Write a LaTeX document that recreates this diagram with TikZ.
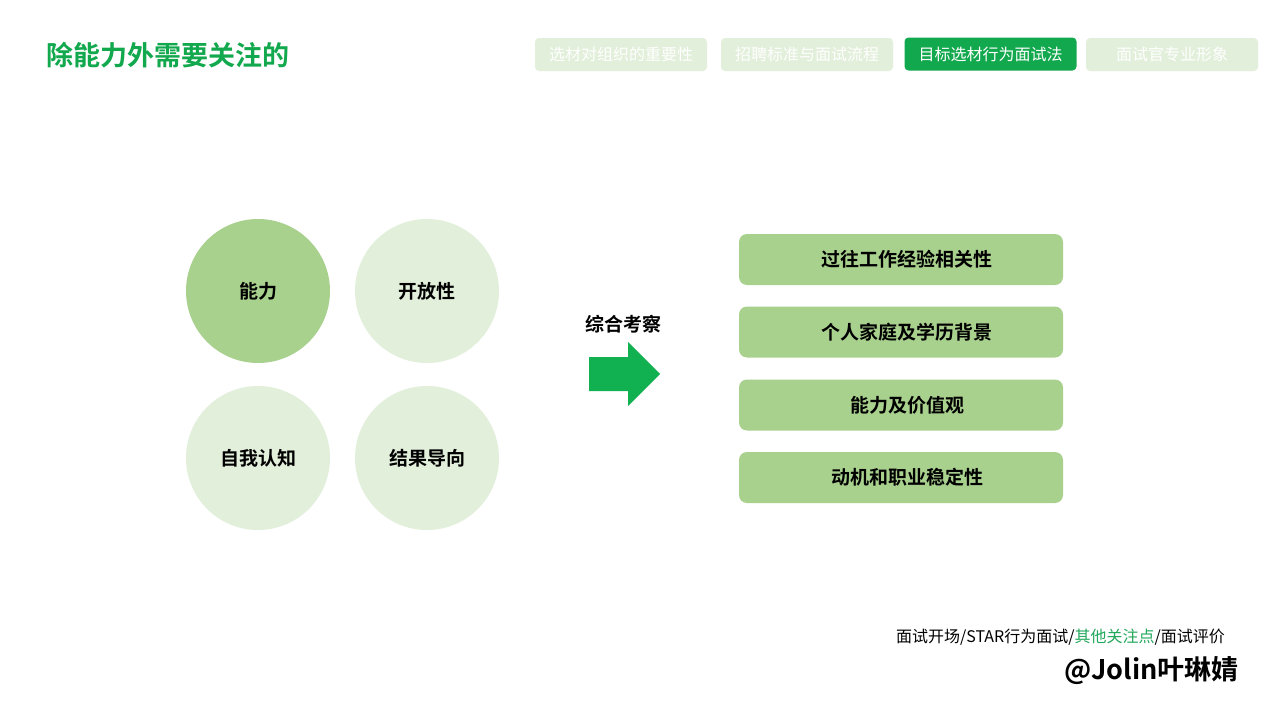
\documentclass[tikz,border=0pt]{standalone}
\usepackage{fontspec}
\setmainfont{Noto Sans CJK SC}[BoldFont={Noto Sans CJK SC Bold}]
\definecolor{tgreen}{HTML}{12A84D}
\definecolor{agreen}{HTML}{11B050}
\definecolor{midgreen}{HTML}{A9D18E}
\definecolor{lightgreen}{HTML}{E2EFDA}
\definecolor{fgreen}{HTML}{22A85C}
\tikzset{
  fs/.style={font=\fontsize{#1}{#1}\selectfont},
  tab/.style={rounded corners=4pt, minimum width=172pt, minimum height=33pt, inner sep=0pt, text=white, fs=16},
  circ/.style={circle, minimum size=144pt, inner sep=0pt, font=\fontsize{19}{19}\selectfont\bfseries},
  itembox/.style={rounded corners=8pt, fill=midgreen, minimum width=324pt, minimum height=51pt, inner sep=0pt, font=\fontsize{19}{19}\selectfont\bfseries},
}
\newcommand{\shiftr}{\hspace*{12pt}}
\begin{document}
\begin{tikzpicture}[x=1pt,y=-1pt]
\useasboundingbox[fill=white] (0,0) rectangle (1280,720);
% title
\node[anchor=west, text=tgreen, inner sep=0pt, font=\fontsize{27}{27}\selectfont\bfseries] (title) at (46,55) {除能力外需要关注的};
% tabs
\node[tab, fill=lightgreen] (t1) at (621,54.5) {选材对组织的重要性};
\node[tab, fill=lightgreen] (t2) at (807,54.5) {招聘标准与面试流程};
\node[tab, fill=tgreen] (t3) at (990.5,54) {目标选材行为面试法};
\node[tab, fill=lightgreen] (t4) at (1172,54.5) {面试官专业形象};
% circles
\node[circ, fill=midgreen] (c1) at (258,291) {\raisebox{-1pt}{能力}};
\node[circ, fill=lightgreen] (c2) at (427,291) {\raisebox{-1pt}{开放性}};
\node[circ, fill=lightgreen] (c3) at (258,458) {\raisebox{-1pt}{自我认知}};
\node[circ, fill=lightgreen] (c4) at (427,458) {\raisebox{-1pt}{结果导向}};
% arrow
\node[inner sep=0pt, font=\fontsize{19}{19}\selectfont\bfseries] (lbl) at (623,324) {综合考察};
\fill[agreen] (589,357) -- (628,357) -- (628,342) -- (660,374) -- (628,406) -- (628,391) -- (589,391) -- cycle;
% boxes
\node[itembox] (b1) at (901,259.5) {\shiftr\raisebox{-1.5pt}{过往工作经验相关性}};
\node[itembox] (b2) at (901,332) {\shiftr\raisebox{-1.5pt}{个人家庭及学历背景}};
\node[itembox] (b3) at (901,405) {\shiftr\raisebox{-1.5pt}{能力及价值观}};
\node[itembox] (b4) at (901,477.5) {\shiftr\raisebox{-1.5pt}{动机和职业稳定性}};
% footer
\node[anchor=east, inner sep=0pt, fs=16] (nav) at (1225,637) {面试开场/STAR行为面试/\textcolor{fgreen}{其他关注点}/面试评价};
\node[anchor=east, inner sep=0pt, font=\fontsize{27}{27}\selectfont\bfseries] (sig) at (1239,671) {@Jolin叶琳婧};
\end{tikzpicture}
\end{document}
